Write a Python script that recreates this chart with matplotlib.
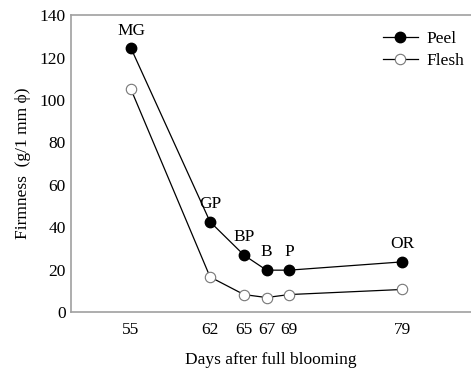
import matplotlib.pyplot as plt

days = [55, 62, 65, 67, 69, 79]
peel = [124.4, 42.6, 26.9, 19.8, 19.8, 23.7]
flesh = [105.0, 16.6, 8.3, 6.9, 8.3, 10.7]
stages = ['MG', 'GP', 'BP', 'B', 'P', 'OR']

plt.rcParams['font.family'] = ['Liberation Serif', 'DejaVu Serif']
fs = 12.5

fig = plt.figure(figsize=(4.71, 3.69), dpi=100)
ax = fig.add_axes([0.151, 0.154, 0.849, 0.805])

ax.plot(days, peel, color='black', linewidth=0.9, marker='o', markersize=7.5,
        markerfacecolor='black', markeredgecolor='black', label='Peel', zorder=3)
ax.plot(days, flesh, color='black', linewidth=0.9, marker='o', markersize=7.5,
        markerfacecolor='white', markeredgecolor='#777777', markeredgewidth=0.8,
        label='Flesh', zorder=3)

for d, v, s in zip(days, peel, stages):
    ax.annotate(s, (d, v), xytext=(0, 7), textcoords='offset points',
                ha='center', va='bottom', fontsize=fs)

ax.set_xlim(49.7, 85.1)
ax.set_ylim(0, 140)
ax.set_xticks(days)
ax.set_yticks(range(0, 141, 20))
ax.tick_params(length=0, labelsize=fs)
ax.tick_params(axis='x', pad=7)
ax.tick_params(axis='y', pad=4)

for side in ['top', 'bottom', 'left']:
    ax.spines[side].set_color('#a0a0a0')
    ax.spines[side].set_linewidth(1.2)
ax.spines['right'].set_visible(False)

ax.set_xlabel('Days after full blooming', fontsize=fs, labelpad=10)
ax.set_ylabel('Firmness  (g/1 mm ϕ)', fontsize=fs, labelpad=6)

ax.legend(loc='upper right', bbox_to_anchor=(1.0, 0.97), frameon=False,
          fontsize=fs, handlelength=2.0, handletextpad=0.5, labelspacing=0.35,
          borderaxespad=0.0)

fig.savefig('out.png', dpi=100)
